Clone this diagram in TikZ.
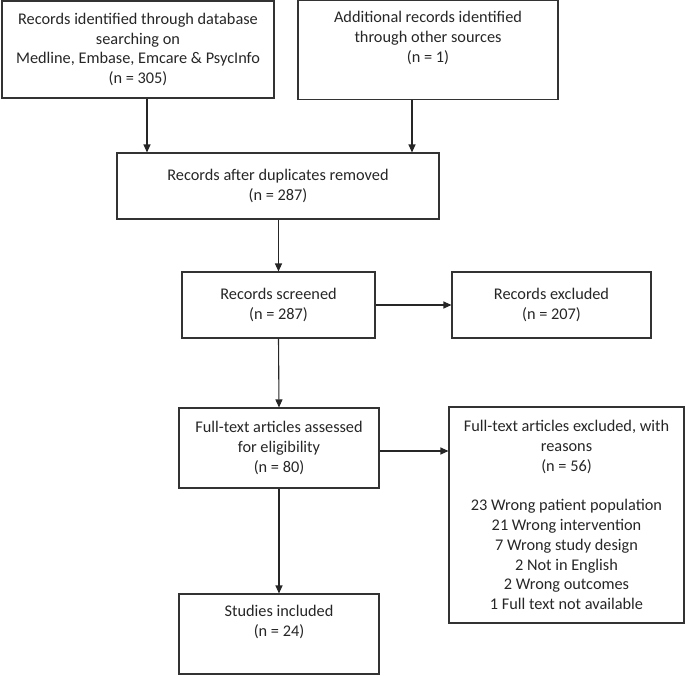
\documentclass[tikz,border=0pt]{standalone}
\usepackage{fontspec}
\setmainfont{Carlito}
\usetikzlibrary{arrows.meta}
\begin{document}
\begin{tikzpicture}[x=1pt, y=-1pt, line width=1.1pt, font=\fontsize{16.3}{19.8}\selectfont,
  box/.style={draw=black!80, text=black!85, align=center, inner sep=0pt},
  arr/.style={draw=black!85, -{Triangle[length=8pt,width=7pt]}}]
  \useasboundingbox (0,0) rectangle (685,675);
  % 상자 위치: 가운데 좌표, 크기는 그림의 픽셀 그대로
  \node[box, minimum width=272pt, minimum height=97pt] (ident) at (138,49.5)
    {Records identified through database\\searching on\\Medline, Embase, Emcare \& PsycInfo\\(n = 305)};
  \node[box, minimum width=260pt, minimum height=99pt] (other) at (428,50)
    {Additional records identified\\through other sources\\(n = 1)\\\strut};
  \node[box, minimum width=322pt, minimum height=66pt] (dupl) at (278,186)
    {Records after duplicates removed\\(n = 287)};
  \node[box, minimum width=193pt, minimum height=66pt] (screen) at (278.5,305)
    {Records screened\\(n = 287)};
  \node[box, minimum width=199pt, minimum height=66pt] (excl) at (551.5,305)
    {Records excluded\\(n = 207)};
  \node[box, minimum width=200pt, minimum height=80pt] (elig) at (279,448)
    {Full-text articles assessed\\for eligibility\\(n = 80)};
  \node[box, minimum width=235pt, minimum height=216pt] (ftexcl) at (566.5,515)
    {Full-text articles excluded, with\\reasons\\(n = 56)\\[19.8pt]
     23 Wrong patient population\\21 Wrong intervention\\7 Wrong study design\\
     2 Not in English\\2 Wrong outcomes\\1 Full text not available};
  \node[box, minimum width=200pt, minimum height=80pt] (incl) at (279,634)
    {Studies included\\(n = 24)\\\strut};
  % 화살표
  \draw[arr] ([xshift=9pt]ident.south) -- ([xshift=9pt]ident.south |- dupl.north);
  \draw[arr] ([xshift=-16pt]other.south) -- ([xshift=-16pt]other.south |- dupl.north);
  \draw[arr] (dupl.south -| screen.north) -- (screen.north);
  \draw[arr] (screen.east) -- (excl.west);
  \draw[arr] (screen.south) -- (elig.north);
  \draw[arr] ([yshift=-3pt]elig.east) -- ([yshift=-3pt]elig.east -| ftexcl.west);
  \draw[arr] (elig.south) -- (incl.north);
\end{tikzpicture}
\end{document}
